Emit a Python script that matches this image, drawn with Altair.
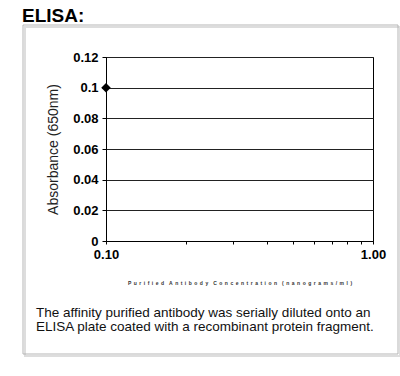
import altair as alt
import pandas as pd

# data
conc = [0.1]
absorb = [0.1]
y_ticks = [0, 0.02, 0.04, 0.06, 0.08, 0.1, 0.12]
x_ticks = [0.1, 0.2, 0.3, 0.4, 0.5, 0.6, 0.7, 0.8, 0.9, 1.0]
title_text = "ELISA:"
x_title = "Purified Antibody Concentration (nanograms/ml)"
y_title = "Absorbance (650nm)"
caption = ["The affinity purified antibody was serially diluted onto an",
           "ELISA plate coated with a recombinant protein fragment."]

spaced_x_title = "\u2002\u2002".join("\u2002".join(w) for w in x_title.split(" "))

df = pd.DataFrame({"conc": conc, "abs": absorb})
FONT = "Liberation Sans"

box_shadow = alt.Chart(pd.DataFrame({"k": [0]})).mark_rect(
    fill=None, stroke="#dddddd", strokeWidth=2
).encode(x=alt.value(-81), x2=alt.value(294), y=alt.value(-30), y2=alt.value(299))

box = alt.Chart(pd.DataFrame({"k": [0]})).mark_rect(
    fill=None, stroke="#b5b5b5", strokeWidth=1
).encode(x=alt.value(-83), x2=alt.value(292), y=alt.value(-32), y2=alt.value(297))

points = alt.Chart(df).mark_point(
    shape="diamond", filled=True, color="black", size=90, opacity=1
).encode(
    x=alt.X("conc:Q", scale=alt.Scale(type="log", domain=[0.1, 1], nice=False),
            axis=alt.Axis(values=x_ticks,
                          labelExpr="datum.value == 0.1 ? '0.10' : (datum.value == 1 ? '1.00' : '')",
                          grid=False, tickSize=3, tickColor="black", domainColor="black",
                          labelFont=FONT, labelFontSize=13, labelFontWeight="bold",
                          labelColor="black", labelPadding=4, labelFlush=False,
                          title=spaced_x_title, titleFont=FONT, titleFontSize=5,
                          titleFontWeight="bold", titleColor="#333333", titlePadding=19)),
    y=alt.Y("abs:Q", scale=alt.Scale(domain=[0, 0.12], nice=False),
            axis=alt.Axis(values=y_ticks, format=".2~f", grid=True, gridColor="#222222",
                          gridWidth=1.2, tickSize=4, tickColor="black", domainColor="black",
                          labelFont=FONT, labelFontSize=13, labelFontWeight="bold",
                          labelColor="black", labelPadding=4,
                          title=y_title, titleFont=FONT, titleFontSize=14,
                          titleFontWeight="normal", titleColor="#222222", titlePadding=12)),
)

title_mark = alt.Chart(pd.DataFrame({"t": [title_text]})).mark_text(
    align="left", baseline="alphabetic", font=FONT, fontSize=19, fontWeight="bold", color="black"
).encode(text="t:N", x=alt.value(-84), y=alt.value(-35))

caption_mark = alt.Chart(pd.DataFrame({"k": [0]})).mark_text(
    align="left", baseline="middle", font=FONT, fontSize=13.5, color="#111111",
    text=caption, lineHeight=14
).encode(x=alt.value(-70), y=alt.value(256))

chart = alt.layer(box_shadow, box, points, title_mark, caption_mark).properties(
    width=267, height=184,
    padding={"left": 106, "top": 57, "right": 27, "bottom": 135},
    autosize=alt.AutoSizeParams(type="none"),
    background="white",
).configure_view(stroke="black", strokeWidth=1)

chart.save("out.html", embed_options={"renderer": "svg", "actions": False})
